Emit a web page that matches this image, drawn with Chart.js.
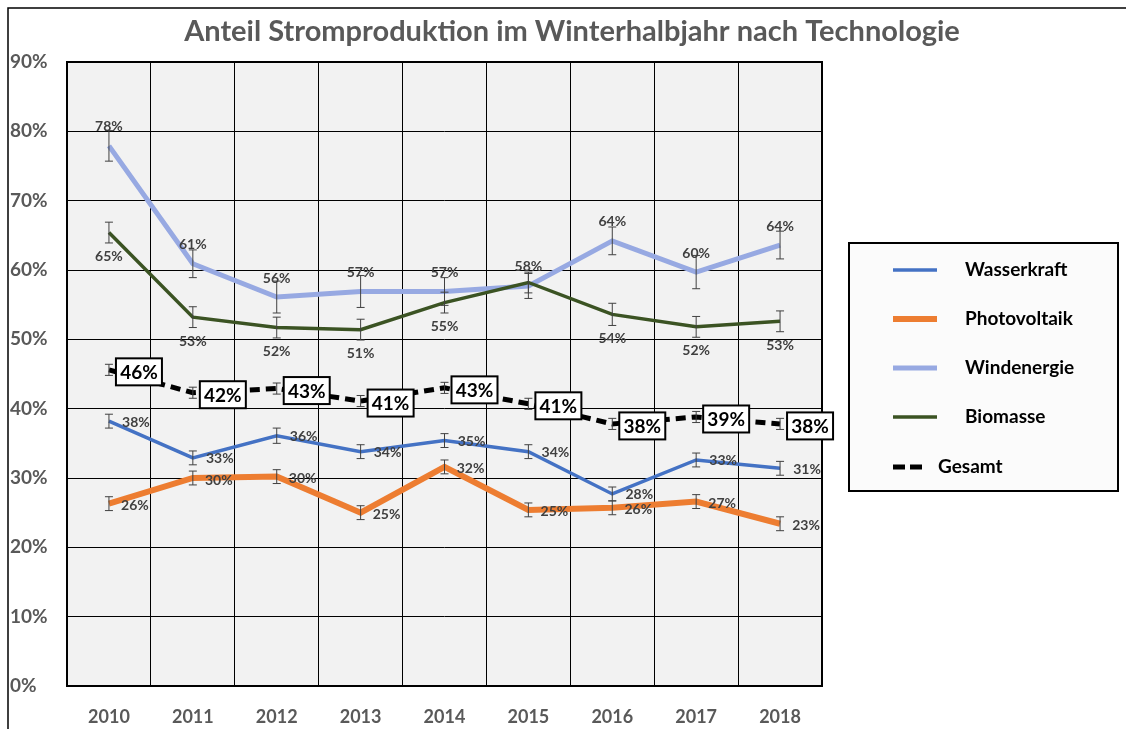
<!DOCTYPE html>
<html>
<head>
<meta charset="utf-8">
<script src="https://cdn.jsdelivr.net/npm/chart.js@4.4.1/dist/chart.umd.min.js"></script>
<style>
  html, body { margin: 0; padding: 0; background: #ffffff; }
  #wrap { width: 1126px; height: 729px; position: relative; }
</style>
</head>
<body>
<div id="wrap"><canvas id="stromChart" width="1126" height="729"></canvas></div>
<script>
// Kategorien und Werte (Prozent)
const years = ['2010', '2011', '2012', '2013', '2014', '2015', '2016', '2017', '2018'];
const yTicks = [0, 10, 20, 30, 40, 50, 60, 70, 80, 90];

const wasserkraft = [38.2, 32.9, 36.1, 33.8, 35.4, 33.8, 27.7, 32.6, 31.4];
const photovoltaik = [26.3, 30.0, 30.2, 25.0, 31.6, 25.4, 25.7, 26.6, 23.4];
const windenergie = [77.9, 60.9, 56.1, 56.9, 56.9, 57.7, 64.2, 59.7, 63.6];
const biomasse = [65.4, 53.2, 51.7, 51.4, 55.3, 58.2, 53.6, 51.8, 52.6];
const gesamt = [45.6, 42.3, 42.9, 41.1, 43.0, 40.7, 37.8, 38.8, 37.8];

// Fehlerbalken (+/- Prozentpunkte)
const errWasser = [1.0, 1.0, 1.1, 1.0, 1.0, 1.0, 1.0, 1.0, 1.0];
const errPV = [1.0, 1.0, 1.0, 1.0, 1.0, 1.0, 1.0, 1.0, 1.0];
const errWind = [2.2, 2.0, 2.3, 2.3, 2.0, 1.8, 2.0, 2.4, 2.0];
const errBio = [1.5, 1.5, 1.5, 1.5, 1.5, 1.5, 1.6, 1.5, 1.5];
const errGesamt = [0.8, 0.8, 0.8, 0.8, 0.8, 0.8, 0.8, 0.8, 0.8];

const FONT = 'Lato, "Open Sans", sans-serif';

// Plot-Hintergrund, Rahmen und Titel
const framePlugin = {
  id: 'frame',
  beforeDraw(chart) {
    const { ctx, chartArea: a } = chart;
    ctx.save();
    ctx.fillStyle = '#ffffff';
    ctx.fillRect(0, 0, chart.width, chart.height);
    ctx.fillStyle = '#f2f2f2';
    ctx.fillRect(a.left, a.top, a.right - a.left, a.bottom - a.top);
    // äußerer Rahmen
    ctx.strokeStyle = '#000000';
    ctx.lineWidth = 1.5;
    ctx.beginPath();
    ctx.moveTo(8, chart.height);
    ctx.lineTo(8, 8);
    ctx.lineTo(chart.width, 8);
    ctx.stroke();
    // Titel
    ctx.fillStyle = '#595959';
    ctx.font = 'bold 29px ' + FONT;
    ctx.textAlign = 'center';
    ctx.textBaseline = 'middle';
    ctx.fillText('Anteil Stromproduktion im Winterhalbjahr nach Technologie', 572, 32);
    ctx.restore();
  },
  beforeDatasetsDraw(chart) {
    const { ctx, chartArea: a } = chart;
    ctx.save();
    ctx.strokeStyle = '#000000';
    ctx.lineWidth = 2;
    ctx.strokeRect(a.left, a.top, a.right - a.left, a.bottom - a.top);
    ctx.restore();
  }
};

// Fehlerbalken und Datenbeschriftungen
const labelPlugin = {
  id: 'labels',
  afterDatasetsDraw(chart) {
    const { ctx } = chart;
    const yScale = chart.scales.y;
    ctx.save();
    chart.data.datasets.forEach((ds, di) => {
      const meta = chart.getDatasetMeta(di);
      ctx.strokeStyle = '#404040';
      ctx.lineWidth = 1;
      meta.data.forEach((pt, i) => {
        const e = ds.errors[i];
        const y1 = yScale.getPixelForValue(ds.data[i] + e);
        const y2 = yScale.getPixelForValue(ds.data[i] - e);
        ctx.beginPath();
        ctx.moveTo(pt.x, y1); ctx.lineTo(pt.x, y2);
        ctx.moveTo(pt.x - 4, y1); ctx.lineTo(pt.x + 4, y1);
        ctx.moveTo(pt.x - 4, y2); ctx.lineTo(pt.x + 4, y2);
        ctx.stroke();
      });
    });
    chart.data.datasets.forEach((ds, di) => {
      const meta = chart.getDatasetMeta(di);
      const lab = ds.labelStyle;
      meta.data.forEach((pt, i) => {
        if (lab.skip.includes(i)) return;
        const txt = Math.round(ds.data[i]) + '%';
        const x = pt.x + lab.dx, y = pt.y + lab.dy;
        ctx.textAlign = 'center';
        ctx.textBaseline = 'middle';
        if (lab.boxed) {
          ctx.font = 'bold 19px ' + FONT;
          const w = 46, h = 27;
          ctx.fillStyle = '#ffffff';
          ctx.fillRect(x - w / 2, y - h / 2, w, h);
          ctx.strokeStyle = '#000000';
          ctx.lineWidth = 2;
          ctx.strokeRect(x - w / 2, y - h / 2, w, h);
          ctx.fillStyle = '#000000';
          ctx.fillText(txt, x, y + 1);
        } else {
          ctx.font = 'bold 14px ' + FONT;
          ctx.fillStyle = '#404040';
          ctx.fillText(txt, x, y);
        }
      });
    });
    ctx.restore();
  }
};

// Legende rechts
const legendPlugin = {
  id: 'boxLegend',
  afterDraw(chart) {
    const { ctx } = chart;
    ctx.save();
    ctx.fillStyle = '#fbfbfb';
    ctx.fillRect(849, 243, 269, 248);
    ctx.strokeStyle = '#000000';
    ctx.lineWidth = 2;
    ctx.strokeRect(849, 243, 269, 248);
    const rows = [270, 319, 368, 417, 467];
    chart.data.datasets.forEach((ds, i) => {
      const y = rows[i];
      const dashed = ds.borderDash && ds.borderDash.length;
      ctx.strokeStyle = ds.borderColor;
      ctx.lineWidth = dashed ? 5 : Math.min(ds.borderWidth, 6);
      ctx.setLineDash(dashed ? [12, 5] : []);
      ctx.beginPath();
      ctx.moveTo(893, y);
      ctx.lineTo(dashed ? 927 : 937, y);
      ctx.stroke();
      ctx.setLineDash([]);
      ctx.fillStyle = '#000000';
      ctx.font = 'bold 19px ' + FONT;
      ctx.textAlign = 'left';
      ctx.textBaseline = 'middle';
      ctx.fillText(ds.label, dashed ? 938 : 965, y);
    });
    ctx.restore();
  }
};

const ctx = document.getElementById('stromChart').getContext('2d');

const stromChart = new Chart(ctx, {
  type: 'line',
  data: {
    labels: years,
    datasets: [
      {
        label: 'Wasserkraft',
        data: wasserkraft,
        errors: errWasser,
        borderColor: '#4472C4',
        borderWidth: 3.5,
        order: 4,
        labelStyle: { dx: 27, dy: 1, skip: [] },
      },
      {
        label: 'Photovoltaik',
        data: photovoltaik,
        errors: errPV,
        borderColor: '#ED7D31',
        borderWidth: 6,
        order: 3,
        labelStyle: { dx: 26, dy: 2, skip: [] },
      },
      {
        label: 'Windenergie',
        data: windenergie,
        errors: errWind,
        borderColor: '#97A9E2',
        borderWidth: 5,
        order: 2,
        labelStyle: { dx: 0, dy: -19, skip: [] },
      },
      {
        label: 'Biomasse',
        data: biomasse,
        errors: errBio,
        borderColor: '#3B5323',
        borderWidth: 3.5,
        order: 1,
        labelStyle: { dx: 0, dy: 24, skip: [5] },
      },
      {
        label: 'Gesamt',
        data: gesamt,
        errors: errGesamt,
        borderColor: '#000000',
        borderWidth: 5,
        borderDash: [10, 6],
        order: 0,
        labelStyle: { dx: 30, dy: 2, skip: [], boxed: true },
      },
    ],
  },
  options: {
    responsive: false,
    animation: false,
    layout: { padding: { left: 10, right: 304, top: 62, bottom: 0 } },
    elements: { point: { radius: 0 }, line: { tension: 0 } },
    plugins: {
      legend: { display: false },
      title: { display: false },
      tooltip: { enabled: false },
    },
    scales: {
      x: {
        offset: true,
        grid: { offset: true, color: '#000000', lineWidth: 1, drawTicks: false },
        border: { display: false },
        ticks: {
          color: '#595959',
          font: { family: FONT, size: 18, weight: 'bold' },
          padding: 20,
        },
        afterFit(scale) { scale.height = 43; },
      },
      y: {
        min: 0,
        max: 90,
        afterBuildTicks(scale) { scale.ticks = yTicks.map(v => ({ value: v })); },
        grid: { color: '#000000', lineWidth: 1, drawTicks: false },
        border: { display: false },
        ticks: {
          color: '#595959',
          crossAlign: 'far',
          font: { family: FONT, size: 19, weight: 'bold' },
          callback: v => v + '%',
        },
        afterFit(scale) { scale.width = 57; },
      },
    },
  },
  plugins: [framePlugin, labelPlugin, legendPlugin],
});
</script>
</body>
</html>
